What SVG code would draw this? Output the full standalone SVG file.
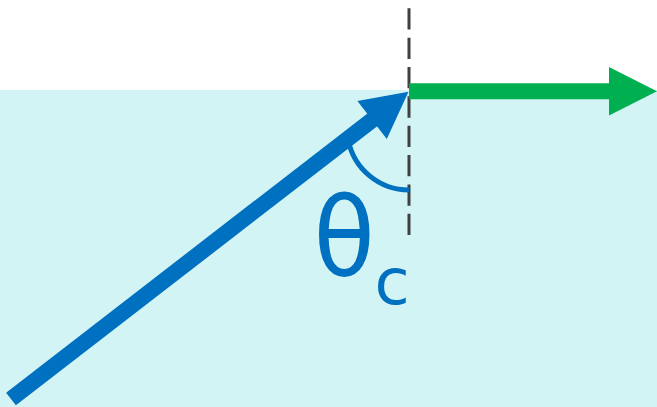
<svg xmlns="http://www.w3.org/2000/svg" width="657" height="407" viewBox="0 0 657 407">
<style>
.water{fill:#d3f4f5}
.dash{stroke:#404040;stroke-width:3;stroke-dasharray:21.3 8.05;fill:none}
.arc{stroke:#0070c0;stroke-width:5;fill:none}
.blue{stroke:#0070c0;stroke-width:16;fill:none}
.bluehead{fill:#0070c0}
.green{stroke:#00b050;stroke-width:16;fill:none}
.greenhead{fill:#00b050}
.lbl{fill:#0070c0;font-family:"DejaVu Sans",sans-serif}
</style>
<rect class="water" x="0" y="90" width="657" height="317"/>
<g id="normal">
<line class="dash" x1="409" y1="8.3" x2="409" y2="235"/>
</g>
<g id="angle">
<path class="arc" d="M348.2,140 A62,62 0 0 0 409,190"/>
</g>
<g id="connectors">
<g id="incident">
<line class="blue" x1="11" y1="399" x2="373" y2="119.3"/>
<polygon class="bluehead" points="408.5,91.7 386.8,138.9 357.4,100.9"/>
</g>
<g id="refracted">
<line class="green" x1="409" y1="91.3" x2="610" y2="91.3"/>
<polygon class="greenhead" points="609,67 657,91.3 609,115.6"/>
</g>
</g>
<g id="label">
<text class="lbl" transform="translate(313.5,275) scale(0.93,1)" x="0" y="0" font-size="108">θ</text>
<text class="lbl" x="374.5" y="304" font-size="64">c</text>
</g>
</svg>
